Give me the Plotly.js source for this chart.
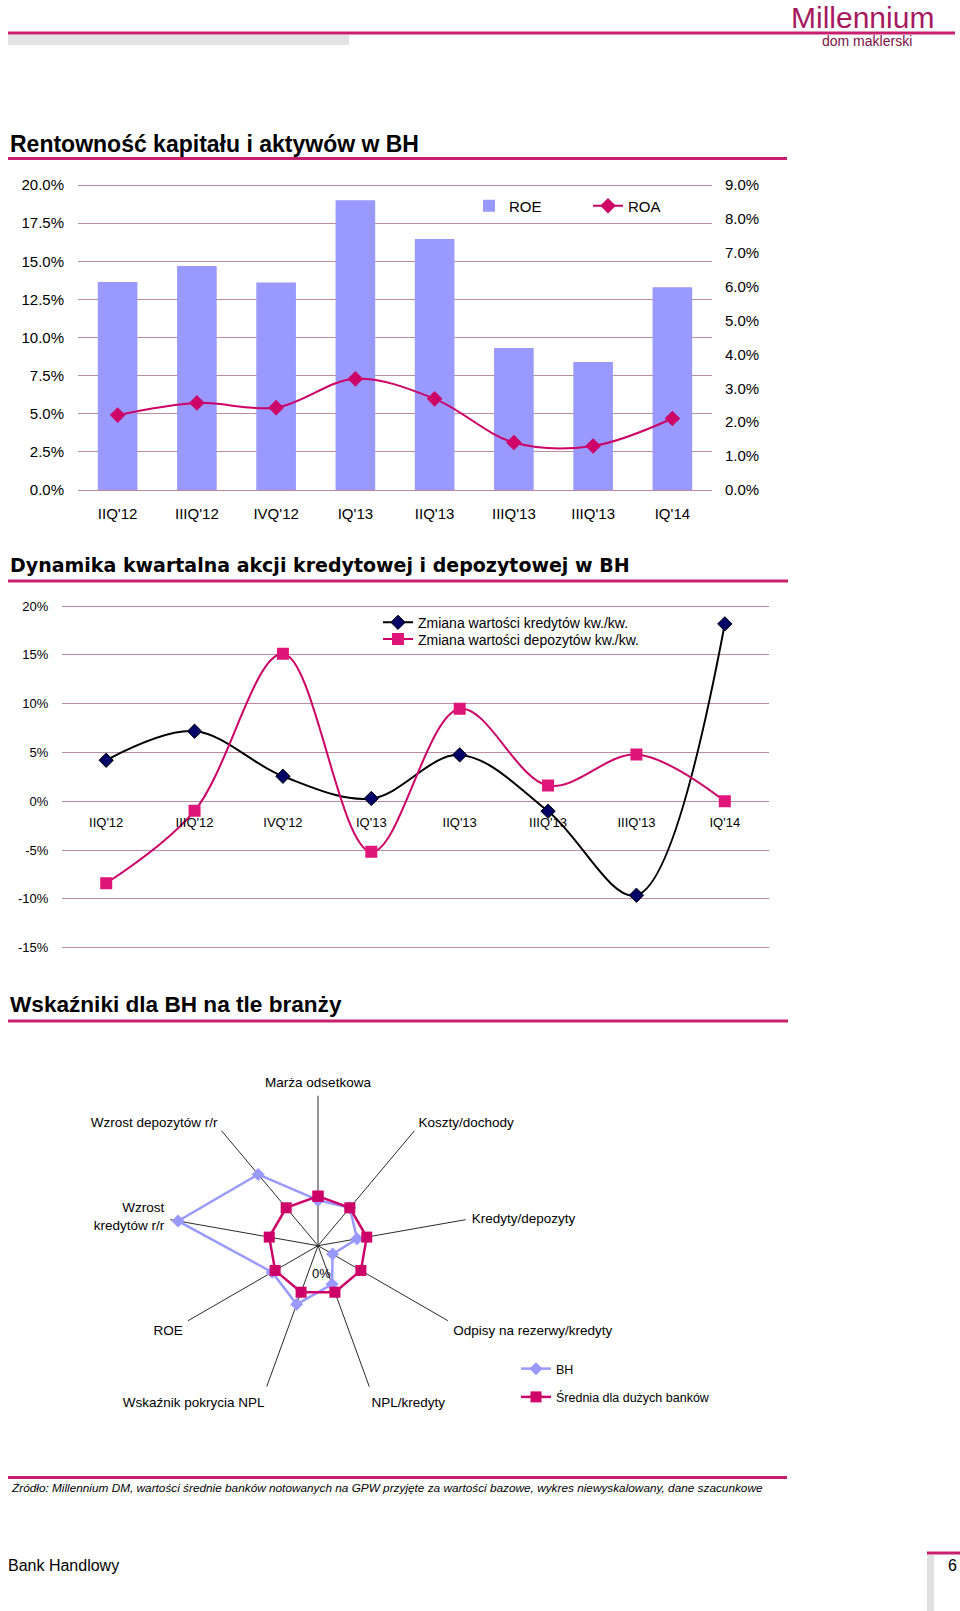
<!DOCTYPE html>
<html>
<head>
<meta charset="utf-8">
<script src="https://cdn.plot.ly/plotly-3.0.1.min.js"></script>
<style>
html,body{margin:0;padding:0;background:#fff;}
#chart{width:960px;height:1611px;}
</style>
</head>
<body>
<div id="chart"></div>
<script>
// ---------- DATA ----------
const quarters = ["IIQ'12", "IIIQ'12", "IVQ'12", "IQ'13", "IIQ'13", "IIIQ'13", "IIIQ'13", "IQ'14"];
const roe = [0.1364, 0.1469, 0.1360, 0.1900, 0.1646, 0.0931, 0.0839, 0.1330];
const roa = [0.0221, 0.0257, 0.0243, 0.0328, 0.0269, 0.0140, 0.0130, 0.0211];

const loansChange = [0.042, 0.0717, 0.0256, 0.0028, 0.0475, -0.0102, -0.0963, 0.1817];
const depositsChange = [-0.084, -0.0098, 0.151, -0.0518, 0.0947, 0.0161, 0.0478, 0.0];
const dynTickVals = [-0.15, -0.10, -0.05, 0, 0.05, 0.10, 0.15, 0.20];
const dynTickText = ["-15%", "-10%", "-5%", "0%", "5%", "10%", "15%", "20%"];

const radarCategories = ["Marża odsetkowa", "Koszty/dochody", "Kredyty/depozyty", "Odpisy na rezerwy/kredyty",
  "NPL/kredyty", "Wskaźnik pokrycia NPL", "ROE", "Wzrost<br>kredytów r/r", "Wzrost depozytów r/r"];
const radarBH = [0.92, 1.00, 0.80, 0.34, 0.83, 1.26, 1.07, 2.87, 1.88];
const radarAvg = [1, 1, 1, 1, 1, 1, 1, 1, 1];

// ---------- HELPERS ----------
const W = 960, H = 1611;
const px = x => x / W;
const py = y => 1 - y / H;
const idx = quarters.map((_, i) => i);
const close = a => a.concat([a[0]]);

const MAG = '#c71f6e';
const GRID = '#b98ca6';
const FONT = 'Liberation Sans, Arial, sans-serif';
const PAD = 4; // px of extra room so the edge gridlines are drawn

// value axis with pixel-exact placement: lo..hi spans pixel rows yBottom..yTop, padded by PAD px
function padded(lo, hi, yTop, yBottom) {
  const e = (hi - lo) * PAD / (yBottom - yTop);
  return {domain: [py(yBottom + PAD), py(yTop - PAD)], range: [lo - e, hi + e]};
}
const c1L = padded(0, 0.20, 185, 490);
const c1R = padded(0, 0.09, 185, 490);
const c2 = padded(-0.15, 0.20, 606, 947.7);

// ---------- TRACES ----------
const traces = [
  {type: 'bar', x: idx, y: roe, name: 'ROE', marker: {color: '#9999ff'}, xaxis: 'x', yaxis: 'y', legend: 'legend'},
  {type: 'scatter', mode: 'lines+markers', x: idx, y: roa, name: 'ROA', xaxis: 'x', yaxis: 'y2',
   line: {color: '#cc0066', width: 2, shape: 'spline', smoothing: 1},
   marker: {symbol: 'diamond', size: 12, color: '#cc0066'}, legend: 'legend'},

  {type: 'scatter', mode: 'lines+markers', x: idx, y: loansChange, name: 'Zmiana wartości kredytów kw./kw.',
   xaxis: 'x3', yaxis: 'y3', line: {color: '#000000', width: 2, shape: 'spline', smoothing: 1},
   marker: {symbol: 'diamond', size: 11, color: '#000066', line: {color: '#000000', width: 1}}, legend: 'legend2'},
  {type: 'scatter', mode: 'lines+markers', x: idx, y: depositsChange, name: 'Zmiana wartości depozytów kw./kw.',
   xaxis: 'x3', yaxis: 'y3', line: {color: '#cc0066', width: 2, shape: 'spline', smoothing: 1},
   marker: {symbol: 'square', size: 12, color: '#e0157a'}, legend: 'legend4'},

  {type: 'scatterpolar', mode: 'lines+markers', r: close(radarBH), theta: close(radarCategories), name: 'BH',
   subplot: 'polar', line: {color: '#9999ff', width: 2.5}, marker: {symbol: 'diamond', size: 10, color: '#9999ff'},
   legend: 'legend3', legendgroup: 'a'},
  {type: 'scatterpolar', mode: 'lines+markers', r: close(radarAvg), theta: close(radarCategories), name: 'Średnia dla dużych banków',
   subplot: 'polar', line: {color: '#cc0066', width: 2.5}, marker: {symbol: 'square', size: 11, color: '#cc0066'},
   legend: 'legend3', legendgroup: 'b'}
];

// ---------- LAYOUT ----------
const zeroPos = py(947.7 - (947.7 - 606) * (0.15 / 0.35));
const hidden = 'rgba(0,0,0,0)';

const ann = (x, y, text, size, opts) => Object.assign({
  xref: 'paper', yref: 'paper', x: px(x), y: py(y), text: text, showarrow: false,
  xanchor: 'left', yanchor: 'middle', font: {family: FONT, size: size, color: '#000'}
}, opts || {});

const hline = (x0, x1, y, w, c) => ({type: 'line', xref: 'paper', yref: 'paper', x0: px(x0), x1: px(x1), y0: py(y), y1: py(y),
  line: {color: c, width: w}});
const rect = (x0, x1, y0, y1, c) => ({type: 'rect', xref: 'paper', yref: 'paper', x0: px(x0), x1: px(x1), y0: py(y1), y1: py(y0),
  fillcolor: c, line: {width: 0}});

const layout = {
  width: W, height: H, margin: {l: 0, r: 0, t: 0, b: 0},
  paper_bgcolor: '#fff', plot_bgcolor: 'rgba(0,0,0,0)',
  font: {family: FONT, color: '#000'},
  showlegend: true,
  bargap: 0.5,

  xaxis: {domain: [px(78), px(712)], anchor: 'free', position: py(490), range: [-0.5, 7.5], tickvals: idx, ticktext: quarters,
    showgrid: false, zeroline: false, showline: false, ticks: 'outside', ticklen: 10, tickcolor: hidden,
    tickfont: {size: 15, family: FONT}},
  yaxis: {domain: c1L.domain, anchor: 'x', range: c1L.range, dtick: 0.025, tick0: 0, tickformat: '.1%',
    gridcolor: GRID, gridwidth: 1, zeroline: false, showline: false, ticks: 'outside', ticklen: 10, tickcolor: hidden,
    tickfont: {size: 15, family: FONT}},
  yaxis2: {overlaying: 'y', side: 'right', anchor: 'x', range: c1R.range, dtick: 0.01, tick0: 0, tickformat: '.1%',
    showgrid: false, zeroline: false, showline: false, ticks: 'outside', ticklen: 9, tickcolor: hidden,
    tickfont: {size: 15, family: FONT}},

  xaxis3: {domain: [px(62), px(769)], anchor: 'free', position: zeroPos, range: [-0.5, 7.5], tickvals: idx, ticktext: quarters,
    showgrid: false, zeroline: false, showline: false, ticks: 'outside', ticklen: 9, tickcolor: hidden,
    tickfont: {size: 13, family: FONT}},
  yaxis3: {domain: c2.domain, anchor: 'x3', range: c2.range, tickvals: dynTickVals, ticktext: dynTickText,
    gridcolor: GRID, gridwidth: 1, zeroline: false, showline: false, ticks: 'outside', ticklen: 10, tickcolor: hidden,
    tickfont: {size: 13, family: FONT}},

  polar: {
    domain: {x: [px(168), px(468)], y: [py(1395.7), py(1095.7)]},
    bgcolor: 'rgba(0,0,0,0)', gridshape: 'linear',
    angularaxis: {type: 'category', direction: 'clockwise', rotation: 90, showline: false, showgrid: true,
      gridcolor: '#2a2a2a', gridwidth: 1, ticks: 'outside', ticklen: 3, tickcolor: hidden,
      tickfont: {size: 13.5, family: FONT}},
    radialaxis: {range: [0, 3.03], showgrid: false, showline: false, showticklabels: false, ticks: ''}
  },

  legend: {orientation: 'h', x: px(469), y: py(206), xanchor: 'left', yanchor: 'middle', bgcolor: hidden,
    entrywidth: 74, entrywidthmode: 'pixels', font: {size: 15, family: FONT}},
  legend2: {orientation: 'v', x: px(378), y: py(622.7), xanchor: 'left', yanchor: 'middle', bgcolor: hidden,
    font: {size: 14, family: FONT}},
  legend4: {orientation: 'v', x: px(378), y: py(639.5), xanchor: 'left', yanchor: 'middle', bgcolor: hidden,
    font: {size: 14, family: FONT}},
  legend3: {orientation: 'v', x: px(516), y: py(1383), xanchor: 'left', yanchor: 'middle', bgcolor: hidden,
    font: {size: 12.5, family: FONT}, tracegroupgap: 9},

  shapes: [
    hline(8, 955, 33, 3, MAG),
    rect(8, 349, 35, 45, '#e3e3e3'),
    hline(8, 787, 158.5, 3, MAG),
    hline(8, 788, 581, 3, MAG),
    hline(8, 788, 1021, 3, MAG),
    hline(8, 787, 1477.5, 3, MAG),
    hline(927, 960, 1553, 3, MAG),
    rect(927, 934, 1555, 1611, '#e0e0e0')
  ],

  annotations: [
    ann(789, 17, 'Millennium', 30, {font: {family: FONT, size: 30, color: '#a6195e'}}),
    ann(820, 40.5, 'dom maklerski', 14, {font: {family: FONT, size: 14, color: '#7a1245'}}),
    ann(8, 144, '<b>Rentowność kapitału i aktywów w BH</b>', 23),
    ann(8, 565, '<b>Dynamika kwartalna akcji kredytowej i depozytowej w BH</b>', 19,
      {font: {family: 'DejaVu Sans, Verdana, sans-serif', size: 19, color: '#000'}}),
    ann(8, 1005, '<b>Wskaźniki dla BH na tle branży</b>', 22.6),
    ann(321.7, 1273.5, '0%', 13, {xanchor: 'center'}),
    ann(9, 1488, '<i>Źródło: Millennium DM, wartości średnie banków notowanych na GPW przyjęte za wartości bazowe, wykres niewyskalowany, dane szacunkowe</i>', 11.8),
    ann(6, 1565, 'Bank Handlowy', 16),
    ann(952, 1565, '6', 16, {xanchor: 'center'})
  ]
};

Plotly.newPlot('chart', traces, layout, {staticPlot: true, displayModeBar: false});
</script>
</body>
</html>
